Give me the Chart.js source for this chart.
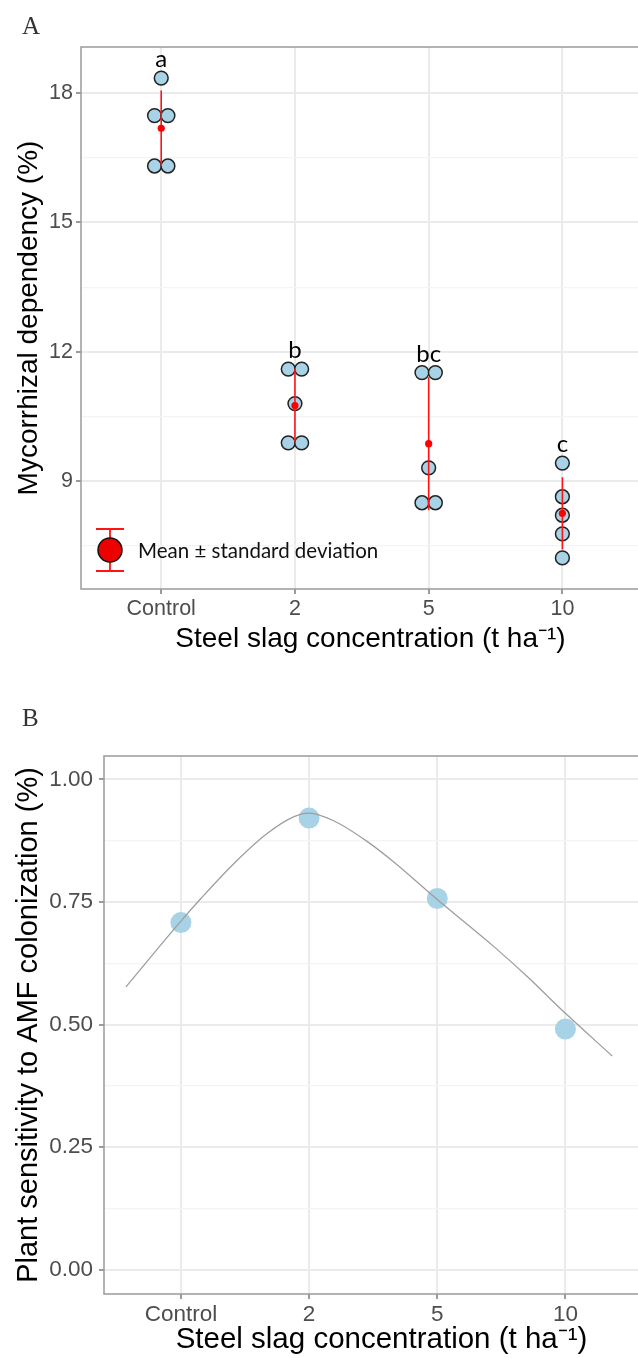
<!DOCTYPE html>
<html>
<head>
<meta charset="utf-8">
<script src="https://cdn.jsdelivr.net/npm/chart.js@4.4.1/dist/chart.umd.min.js"></script>
<style>
  html, body { margin: 0; padding: 0; background: #fff; overflow: hidden; }
  .panel { position: absolute; left: 0; }
  .tag { position: absolute; font-family: 'Liberation Serif', serif; font-size: 25px; color: #333; }
</style>
</head>
<body>
<canvas id="chartA" class="panel" width="680" height="660" style="top:0"></canvas>
<canvas id="chartB" class="panel" width="680" height="698" style="top:660px"></canvas>
<div class="tag" style="left:22px; top:12px;">A</div>
<div class="tag" style="left:22px; top:704px;">B</div>

<script>
// ================== DATOS ==================
const categories = ['Control', '2', '5', '10'];

// mycorrhizal dependency (%) per replicate
const depControl = [18.35, 17.48, 17.48, 16.31, 16.31];
const dep2 = [11.60, 11.60, 10.80, 9.89, 9.89];
const dep5 = [11.52, 11.52, 9.31, 8.50, 8.50];
const dep10 = [9.42, 8.64, 8.21, 7.78, 7.22];
const groupLetters = ['a', 'b', 'bc', 'c'];

const depTicks = [7.5, 9, 10.5, 12, 13.5, 15, 16.5, 18];
const depTickLabels = [9, 12, 15, 18];

// plant sensitivity to AMF colonization
const sensitivity = [0.708, 0.921, 0.757, 0.491];
const curveX = [-0.429, 0, 0.156, 0.416, 0.675, 0.883, 1, 1.195, 1.455, 1.663, 2, 2.442, 2.702, 3, 3.365];
const curveY = [0.577, 0.711, 0.757, 0.829, 0.890, 0.924, 0.931, 0.915, 0.873, 0.831, 0.755, 0.659, 0.598, 0.523, 0.436];

const sensTicks = [0, 0.125, 0.25, 0.375, 0.5, 0.625, 0.75, 0.875, 1];
const sensTickLabels = [0, 0.25, 0.5, 0.75, 1];

// ================== ESTILO ==================
Chart.defaults.font.family = "'Liberation Sans', Arial, sans-serif";
Chart.defaults.color = '#4d4d4d';

const BLUE = '#a8d2e6';
const DODGE = 0.05;
const xTitle = 'Steel slag concentration (t ha\u207B\u00B9)';

const mean = a => a.reduce((s, v) => s + v, 0) / a.length;
const sd = a => {
    const m = mean(a);
    return Math.sqrt(a.reduce((s, v) => s + (v - m) ** 2, 0) / (a.length - 1));
};

function xAxis(height, tickSize, titleSize) {
    return {
        type: 'linear',
        min: -0.6,
        max: 3.73,
        afterBuildTicks: s => { s.ticks = categories.map((_, i) => ({ value: i })); },
        afterFit: s => { s.height = height; },
        border: { display: false },
        grid: { color: '#ebebeb', lineWidth: 2, tickLength: 5, tickColor: '#7a7a7a', tickWidth: 1.5 },
        ticks: {
            autoSkip: false,
            maxRotation: 0,
            padding: 2,
            font: { size: tickSize },
            callback: v => categories[v]
        },
        title: { display: true, text: xTitle, color: '#000', font: { size: titleSize } }
    };
}

function yAxis(width, ticks, labels, min, max, fmt, tickSize, titleSize) {
    const isMajor = v => labels.some(l => Math.abs(l - v) < 1e-9);
    return {
        type: 'linear',
        min,
        max,
        afterBuildTicks: s => { s.ticks = ticks.map(v => ({ value: v })); },
        afterFit: s => { s.width = width; },
        border: { display: false },
        grid: {
            tickLength: 5,
            tickWidth: 1.5,
            color: c => isMajor(c.tick.value) ? '#ebebeb' : '#f4f4f4',
            lineWidth: c => isMajor(c.tick.value) ? 2 : 1.2,
            tickColor: c => isMajor(c.tick.value) ? '#7a7a7a' : 'rgba(0,0,0,0)'
        },
        ticks: {
            autoSkip: false,
            padding: 3,
            font: { size: tickSize },
            callback: v => isMajor(v) ? fmt(v) : ''
        },
        title: { display: true, color: '#000', font: { size: titleSize }, padding: { top: 12 } }
    };
}

// marco del panel
const panelBorder = {
    id: 'panelBorder',
    afterDraw(chart) {
        const { ctx, chartArea: a } = chart;
        ctx.save();
        ctx.strokeStyle = '#9a9a9a';
        ctx.lineWidth = 1.5;
        ctx.strokeRect(a.left, a.top, a.right - a.left, a.bottom - a.top);
        ctx.restore();
    }
};

// ================== PANEL A ==================
const depGroups = [depControl, dep2, dep5, dep10];
const depMeans = depGroups.map(mean);
const depSds = depGroups.map(sd);

const obsPoints = [];
depGroups.forEach((vals, gi) => {
    vals.forEach((v, k) => {
        const n = vals.filter(w => w === v).length;
        const rank = vals.slice(0, k).filter(w => w === v).length;
        const dx = n > 1 ? (rank - (n - 1) / 2) * 2 * DODGE : 0;
        obsPoints.push({ x: gi + dx, y: v });
    });
});

const errorBars = depGroups.map((_, i) => ({
    type: 'line',
    data: [{ x: i, y: depMeans[i] - depSds[i] }, { x: i, y: depMeans[i] + depSds[i] }],
    borderColor: '#ff1414',
    borderWidth: 1.6,
    pointRadius: 0,
    order: 1
}));

const groupLetterPlugin = {
    id: 'groupLetters',
    afterDatasetsDraw(chart) {
        const { ctx, scales: { x, y } } = chart;
        ctx.save();
        ctx.font = "24px Lato, 'Open Sans', sans-serif";
        ctx.fillStyle = '#000';
        ctx.textAlign = 'center';
        ctx.textBaseline = 'alphabetic';
        groupLetters.forEach((t, i) => {
            const top = Math.max(...depGroups[i]);
            ctx.fillText(t, x.getPixelForValue(i), y.getPixelForValue(top) - 11);
        });
        ctx.restore();
    }
};

// leyenda media ± desviación estándar
const meanLegend = {
    id: 'meanLegend',
    afterDatasetsDraw(chart) {
        const { ctx, chartArea: a } = chart;
        const cx = a.left + 29, cy = a.bottom - 39;
        ctx.save();
        ctx.strokeStyle = '#ff1414';
        ctx.lineWidth = 1.8;
        ctx.beginPath();
        ctx.moveTo(cx, cy - 21); ctx.lineTo(cx, cy + 21);
        ctx.moveTo(cx - 14, cy - 21); ctx.lineTo(cx + 14, cy - 21);
        ctx.moveTo(cx - 14, cy + 21); ctx.lineTo(cx + 14, cy + 21);
        ctx.stroke();
        ctx.beginPath();
        ctx.arc(cx, cy, 12, 0, Math.PI * 2);
        ctx.fillStyle = '#ee0000';
        ctx.fill();
        ctx.strokeStyle = '#111';
        ctx.lineWidth = 1.5;
        ctx.stroke();
        ctx.fillStyle = '#111';
        ctx.font = "20.5px Lato, 'Open Sans', sans-serif";
        ctx.textBaseline = 'middle';
        ctx.fillText('Mean \u00B1 standard deviation', cx + 28, cy + 1);
        ctx.restore();
    }
};

const axA = yAxis(81, depTicks, depTickLabels, 6.5, 19.07, v => String(v), 21.5, 28);
axA.title.text = 'Mycorrhizal dependency (%)';

new Chart(document.getElementById('chartA'), {
    type: 'scatter',
    data: {
        datasets: [
            {
                data: depMeans.map((m, i) => ({ x: i, y: m })),
                backgroundColor: '#ff0000',
                borderWidth: 0,
                pointRadius: 3.6,
                order: 0
            },
            ...errorBars,
            {
                data: obsPoints,
                backgroundColor: BLUE,
                borderColor: '#222',
                borderWidth: 1.5,
                pointRadius: 6.9,
                order: 2
            }
        ]
    },
    options: {
        responsive: false,
        animation: false,
        events: [],
        layout: { padding: { top: 47, right: 20, left: 0, bottom: 0 } },
        plugins: { legend: { display: false }, tooltip: { enabled: false } },
        scales: {
            x: xAxis(71, 21.5, 28),
            y: axA
        }
    },
    plugins: [panelBorder, groupLetterPlugin, meanLegend]
});

// ================== PANEL B ==================
const axB = yAxis(104, sensTicks, sensTickLabels, -0.049, 1.0475, v => v.toFixed(2), 22.5, 29);
axB.title.text = 'Plant sensitivity to AMF colonization (%)';
axB.ticks.padding = 6;

const xB = xAxis(64, 22.5, 29.5);
xB.title.padding = { top: 0, bottom: 0 };

new Chart(document.getElementById('chartB'), {
    type: 'scatter',
    data: {
        datasets: [
            {
                type: 'line',
                data: curveX.map((x, i) => ({ x, y: curveY[i] })),
                borderColor: '#9e9e9e',
                borderWidth: 1.3,
                pointRadius: 0,
                cubicInterpolationMode: 'monotone',
                order: 0
            },
            {
                data: sensitivity.map((v, i) => ({ x: i, y: v })),
                backgroundColor: BLUE,
                borderWidth: 0,
                pointRadius: 10.5,
                order: 1
            }
        ]
    },
    options: {
        responsive: false,
        animation: false,
        events: [],
        layout: { padding: { top: 96, right: 21, left: 0, bottom: 0 } },
        plugins: { legend: { display: false }, tooltip: { enabled: false } },
        scales: { x: xB, y: axB }
    },
    plugins: [panelBorder]
});
</script>
</body>
</html>
